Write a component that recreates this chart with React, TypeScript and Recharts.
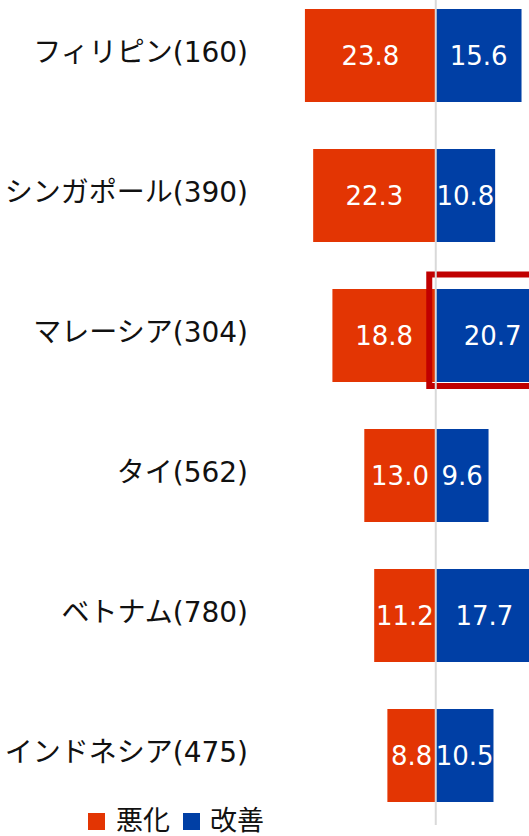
import { BarChart, Bar, XAxis, YAxis, ReferenceLine, LabelList } from "recharts"

const countries = ["フィリピン(160)", "シンガポール(390)", "マレーシア(304)", "タイ(562)", "ベトナム(780)", "インドネシア(475)"]
const worse = [23.8, 22.3, 18.8, 13.0, 11.2, 8.8]
const better = [15.6, 10.8, 20.7, 9.6, 17.7, 10.5]
const highlighted = "マレーシア(304)"

const RED = "#E33503"
const BLUE = "#003FA5"
const FONT = "'DejaVu Sans', 'Noto Sans CJK JP', sans-serif"

const data = countries.map((name, i) => ({ name, worse: -worse[i], better: better[i] }))

const BetterShape = (props: any) => {
  const { x, y, width, height, payload } = props
  return (
    <g>
      <rect x={x} y={y} width={width} height={height} fill={BLUE} />
      {payload?.name === highlighted && (
        <rect x={x - 6.5} y={y - 14.5} width={width + 30} height={height + 18.5}
          fill="none" stroke="#C00000" strokeWidth={6} />
      )}
    </g>
  )
}

const CountryTick = (props: any) => {
  const { x, y, payload } = props
  return (
    <text x={x} y={y - 3} dy="0.355em" textAnchor="end" fill="#111" fontSize={28} fontFamily={FONT}>
      {payload.value}
    </text>
  )
}

const fmt = (v: any) => Math.abs(Number(v)).toFixed(1)

export default function App() {
  return (
    <div style={{ position: "fixed", left: 0, top: 0, width: 529, height: 836, overflow: "hidden", background: "#fff", fontFamily: FONT }}>
      <div style={{ position: "absolute", left: 0, top: -15 }}>
        <BarChart width={560} height={840} data={data} layout="vertical" stackOffset="sign"
          margin={{ top: 0, right: 0, bottom: 0, left: 0 }}>
          <XAxis type="number" hide domain={[-32.7, 22.6]} allowDataOverflow />
          <YAxis type="category" dataKey="name" width={256} axisLine={false} tickLine={false}
            tick={CountryTick} interval={0} />
          <Bar dataKey="worse" stackId="a" fill={RED} barSize={93} isAnimationActive={false}>
            <LabelList dataKey="worse" position="center" formatter={fmt} fill="#fff" fontSize={26} fontFamily={FONT} />
          </Bar>
          <Bar dataKey="better" stackId="a" fill={BLUE} barSize={93} shape={BetterShape} isAnimationActive={false}>
            <LabelList dataKey="better" position="center" formatter={fmt} fill="#fff" fontSize={26} fontFamily={FONT} />
          </Bar>
          <ReferenceLine x={0} stroke="#d9d9d9" strokeWidth={2} />
        </BarChart>
      </div>
      <div style={{ position: "absolute", left: 88, top: 804, display: "flex", alignItems: "center", fontSize: 27, color: "#111", lineHeight: "34px" }}>
        <span style={{ width: 17, height: 17, background: RED, display: "inline-block", marginRight: 11 }} />
        <span style={{ marginRight: 13 }}>悪化</span>
        <span style={{ width: 17, height: 17, background: BLUE, display: "inline-block", marginRight: 10 }} />
        <span>改善</span>
      </div>
    </div>
  )
}
